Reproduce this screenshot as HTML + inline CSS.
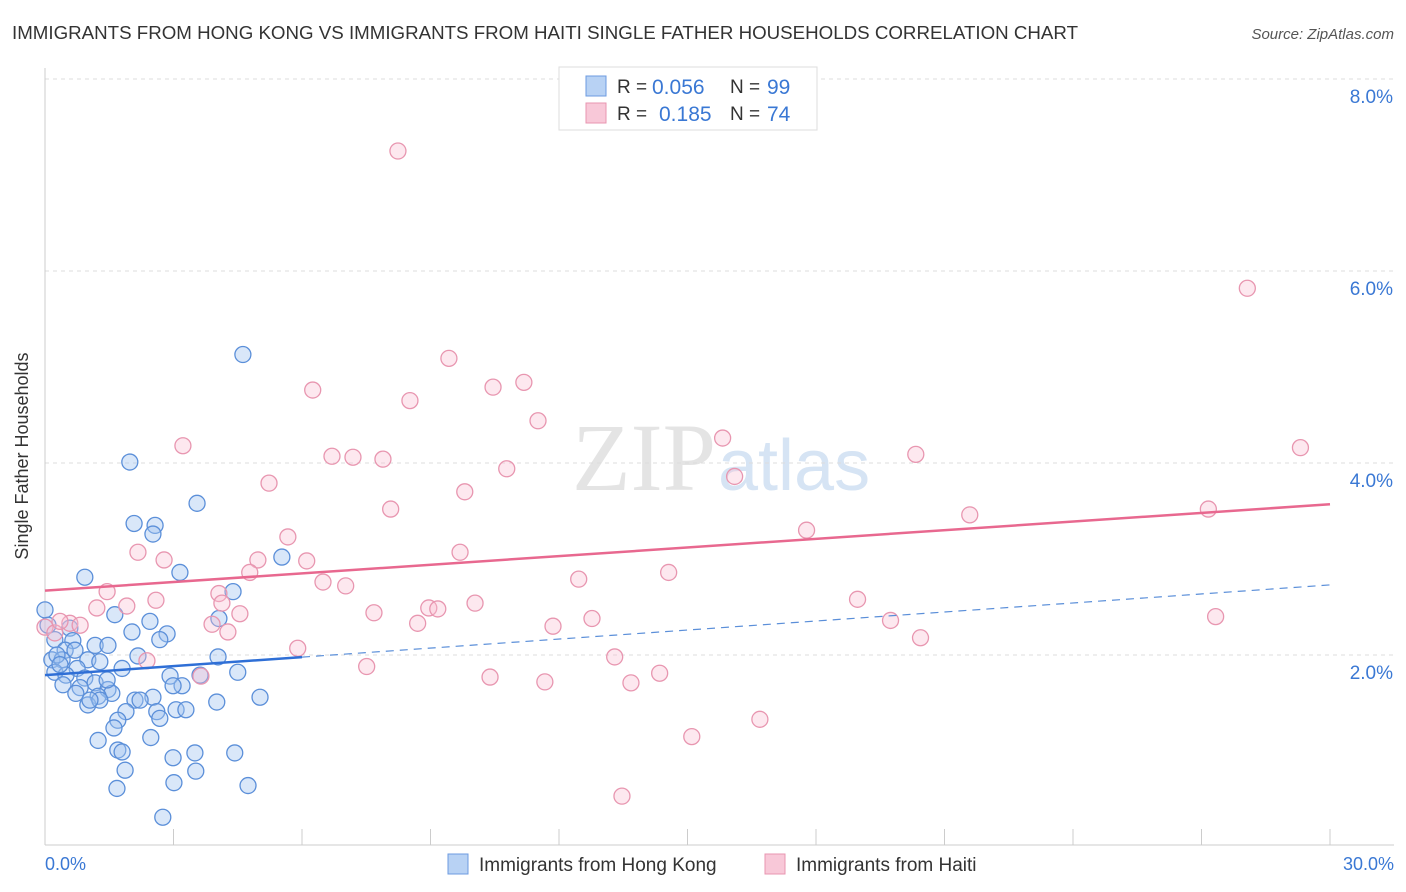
<!DOCTYPE html>
<html><head><meta charset="utf-8">
<style>
body{margin:0;background:#fff;font-family:"Liberation Sans",sans-serif;}
#wrap{position:relative;width:1406px;height:892px;overflow:hidden;}
</style></head>
<body>
<div id="wrap">
<svg id="svg" width="1406" height="892" xmlns="http://www.w3.org/2000/svg">
<text x="12" y="39" font-size="18" fill="#333" textLength="1066" lengthAdjust="spacingAndGlyphs">IMMIGRANTS FROM HONG KONG VS IMMIGRANTS FROM HAITI SINGLE FATHER HOUSEHOLDS CORRELATION CHART</text>
<text x="1394" y="39" font-size="15" fill="#555" font-style="italic" text-anchor="end">Source: ZipAtlas.com</text>
<text x="716" y="490" font-size="96" fill="#e4e4e4" text-anchor="end" font-family="Liberation Serif">ZIP</text>
<text x="718" y="490" font-size="72" fill="#d6e4f4">atlas</text>
<g id="grid"></g>
<line x1="45" y1="68" x2="45" y2="845" stroke="#ccc"/>
<line x1="45" y1="845" x2="1394" y2="845" stroke="#ccc"/>
<g id="xticks"></g>
<g id="pts"></g>
<g id="trends"></g>
<text x="28" y="456" font-size="18" fill="#333" text-anchor="middle" transform="rotate(-90 28 456)">Single Father Households</text>
<text x="45" y="870" font-size="18" fill="#3a78d4">0.0%</text>
<text x="1394" y="870" font-size="18" fill="#3a78d4" text-anchor="end">30.0%</text>
<g>
<rect x="559" y="67" width="258" height="63" fill="#fff" stroke="#ddd"/>
<rect x="586" y="76" width="20" height="20" fill="#b8d2f4" stroke="#6d9be0"/>
<text x="617" y="93" font-size="19" fill="#333">R =</text>
<text x="652" y="94" font-size="21" fill="#3a78d4">0.056</text>
<text x="730" y="93" font-size="19" fill="#333">N =</text>
<text x="767" y="94" font-size="21" fill="#3a78d4">99</text>
<rect x="586" y="103" width="20" height="20" fill="#f8c8d8" stroke="#e896b0"/>
<text x="617" y="120" font-size="19" fill="#333">R =</text>
<text x="659" y="121" font-size="21" fill="#3a78d4">0.185</text>
<text x="730" y="120" font-size="19" fill="#333">N =</text>
<text x="767" y="121" font-size="21" fill="#3a78d4">74</text>
</g>
<g>
<rect x="448" y="854" width="20" height="20" fill="#b8d2f4" stroke="#6d9be0"/>
<text x="479" y="871" font-size="19" fill="#333">Immigrants from Hong Kong</text>
</g>
<g>
<rect x="765" y="854" width="20" height="20" fill="#f8c8d8" stroke="#e896b0"/>
<text x="796" y="871" font-size="19" fill="#333">Immigrants from Haiti</text>
</g>
</svg>
</div>
<script>
const yTicks=[2,4,6,8];
const yTickLabels=["2.0%","4.0%","6.0%","8.0%"];
const xTicks=[0,3,6,9,12,15,18,21,24,27,30];
const blueX=[4.62,1.98,3.55,2.08,2.57,2.52,5.53,3.15,0.93,4.39,0,1.63,2.45,4.06,0.07,2.03,2.85,0.58,0.23,0.65,2.68,1.17,1.47,0.47,2.17,4.04,0.16,0.40,1.00,1.28,1.80,0.75,0.23,0.49,2.92,3.62,4.50,0.93,1.17,0.42,0.82,1.47,1.56,3.20,2.99,0.72,1.24,2.52,2.10,4.01,5.02,1.00,1.28,1.89,2.61,3.06,3.29,1.70,1.61,2.68,1.24,2.47,1.70,1.80,2.99,3.50,4.43,1.87,3.52,3.01,1.68,4.74,2.75,0.28,0.35,1.45,1.05,2.22,0.70];
const blueY=[5.13,4.01,3.58,3.37,3.35,3.26,3.02,2.86,2.81,2.66,2.47,2.42,2.35,2.38,2.31,2.24,2.22,2.28,2.16,2.15,2.16,2.10,2.10,2.05,1.99,1.98,1.95,1.95,1.95,1.93,1.86,1.86,1.82,1.79,1.78,1.79,1.82,1.76,1.71,1.69,1.66,1.64,1.60,1.68,1.68,1.60,1.57,1.56,1.53,1.51,1.56,1.48,1.53,1.41,1.41,1.43,1.43,1.32,1.24,1.34,1.11,1.14,1.01,0.99,0.93,0.98,0.98,0.80,0.79,0.67,0.61,0.64,0.31,2.00,1.90,1.74,1.53,1.53,2.05];
const pinkX=[8.24,28.07,9.43,6.25,11.18,10.46,8.52,11.51,3.22,15.82,29.31,20.33,6.70,7.19,7.89,10.78,16.10,9.80,5.23,8.07,21.59,27.16,17.78,5.67,2.17,9.69,2.78,4.97,6.11,14.56,4.78,12.46,6.49,7.02,1.45,4.06,2.59,10.04,18.97,1.21,1.91,4.13,8.96,9.17,7.68,4.55,12.77,27.33,19.74,11.86,8.70,3.90,0.58,4.27,20.44,5.90,2.38,7.51,13.30,14.35,10.39,11.67,13.68,3.64,16.69,15.10,13.47,0,0.23,0.35,0.82];
const pinkY=[7.25,5.82,5.09,4.76,4.84,4.79,4.65,4.44,4.18,4.26,4.16,4.09,4.07,4.06,4.04,3.94,3.86,3.70,3.79,3.52,3.46,3.52,3.30,3.23,3.07,3.07,2.99,2.99,2.98,2.86,2.86,2.79,2.76,2.72,2.66,2.64,2.57,2.54,2.58,2.49,2.51,2.54,2.49,2.48,2.44,2.43,2.38,2.40,2.36,2.30,2.33,2.32,2.33,2.24,2.18,2.07,1.94,1.88,1.98,1.81,1.77,1.72,1.71,1.78,1.33,1.15,0.53,2.29,2.23,2.35,2.31];
const blueTrend=[1.79,2.73];
const pinkTrend=[2.67,3.57];
const blueSolidEnd=6;
const NS="http://www.w3.org/2000/svg";
function sx(v){return 45+v*(1330-45)/30;}
function sy(v){return 847-v*96;}
function mk(t,a,p){const e=document.createElementNS(NS,t);for(const k in a)e.setAttribute(k,a[k]);p.appendChild(e);return e;}
const grid=document.getElementById('grid');
yTicks.forEach((t,i)=>{
 const l=mk('line',{x1:45,x2:1394,y1:sy(t),y2:sy(t),stroke:'#ddd','stroke-dasharray':'4,4'},grid);
 
 
 const tx=mk('text',{x:1393,y:sy(t)+24,'font-size':19,fill:'#3a78d4','text-anchor':'end'},grid);
 tx.textContent=yTickLabels[i];
 
 
});
const xt=document.getElementById('xticks');
xTicks.forEach(t=>{
 const l=mk('line',{x1:sx(t),x2:sx(t),y1:829,y2:845,stroke:'#ccc'},xt);
 
 
});
const pts=document.getElementById('pts');
blueX.forEach((x,i)=>{
 const c=mk('circle',{cx:sx(x),cy:sy(blueY[i]),r:8,fill:'rgba(160,196,240,0.4)',stroke:'#5b8fd9','stroke-width':1.3},pts);
 
 
});
pinkX.forEach((x,i)=>{
 const c=mk('circle',{cx:sx(x),cy:sy(pinkY[i]),r:8,fill:'rgba(248,190,210,0.35)',stroke:'#e896b0','stroke-width':1.3},pts);
 
 
});
const tr=document.getElementById('trends');
function ty(a,x){return a[0]+(a[1]-a[0])*x/30;}
let l1=mk('line',{x1:sx(0),y1:sy(ty(blueTrend,0)),x2:sx(blueSolidEnd),y2:sy(ty(blueTrend,blueSolidEnd)),stroke:'#2f6fd6','stroke-width':2.5},tr);


let l2=mk('line',{x1:sx(blueSolidEnd),y1:sy(ty(blueTrend,blueSolidEnd)),x2:sx(30),y2:sy(ty(blueTrend,30)),stroke:'#5b8fd9','stroke-width':1.2,'stroke-dasharray':'8,6'},tr);


let l3=mk('line',{x1:sx(0),y1:sy(pinkTrend[0]),x2:sx(30),y2:sy(pinkTrend[1]),stroke:'#e8688f','stroke-width':2.5},tr);


</script>
</body></html>
